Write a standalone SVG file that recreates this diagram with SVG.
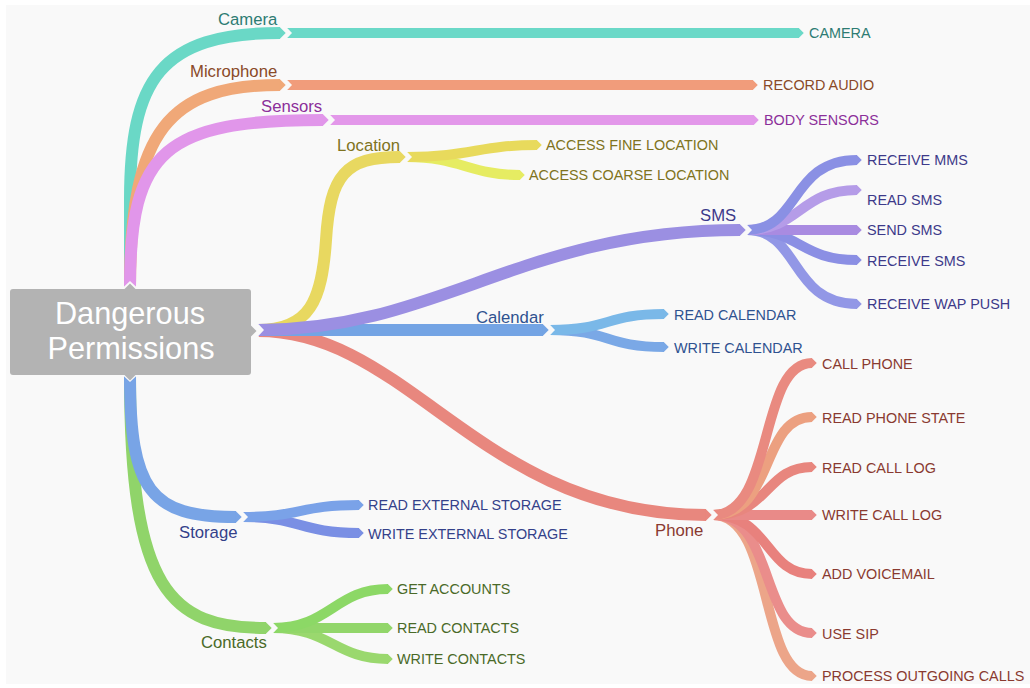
<svg xmlns="http://www.w3.org/2000/svg" width="1030" height="688" viewBox="0 0 1030 688">
<defs>
<marker id="tip" viewBox="0 0 10 20" markerWidth="0.5" markerHeight="1" refX="0.5" refY="10" orient="auto" markerUnits="strokeWidth" overflow="visible"><path d="M0,0 L10,10 L0,20 Z" fill="context-stroke"/></marker>
<marker id="notch" viewBox="0 0 10 20" markerWidth="0.5" markerHeight="1" refX="0" refY="10" orient="auto" markerUnits="strokeWidth" overflow="visible"><path d="M-1,-1.5 L10,10 L-1,21.5 Z" fill="#f9f9f9"/></marker>
<style>
.e{fill:none;stroke-linecap:butt;marker-end:url(#tip);marker-start:url(#notch)}
.l1{stroke-width:12}
.l2{stroke-width:10}
text{font-family:"Liberation Sans",Arial,sans-serif}
.cat{font-size:16.7px}
.leaf{font-size:14.4px}
</style>
</defs>
<rect width="1030" height="688" fill="#ffffff"/>
<rect x="6" y="5" width="1024" height="679" fill="#f9f9f9"/>

<g id="connectors">
<path class="e l2" stroke="#6bd9c8" d="M287,33 L799,33"/>
<path class="e l2" stroke="#f19c7b" d="M287,85 L753,85"/>
<path class="e l2" stroke="#e398ea" d="M330,120 L754,120"/>
<path class="e l2" stroke="#e6ec62" d="M407,157 C460,157 470,175 520,175"/>
<path class="e l2" stroke="#e8da5c" d="M407,157 C470,157 480,145 537,145"/>
<path class="e l2" stroke="#9297e6" d="M747,230 C800,230 790,304 857,304"/>
<path class="e l2" stroke="#8b8fe4" d="M747,230 C800,230 800,260 857,260"/>
<path class="e l2" stroke="#a98be1" d="M747,230 L857,230"/>
<path class="e l2" stroke="#b59ce8" d="M747,230 C800,230 800,190 857,190"/>
<path class="e l2" stroke="#8a90e4" d="M747,230 C800,230 790,160 857,160"/>
<path class="e l2" stroke="#7aa8e6" d="M550,330 C610,330 605,347 664,347"/>
<path class="e l2" stroke="#7ab8e8" d="M550,330 C610,330 605,314 664,314"/>
<path class="e l2" stroke="#eca589" d="M713,515 C775,515 758,676 812,676"/>
<path class="e l2" stroke="#ea8d8b" d="M713,515 C775,515 760,633 812,633"/>
<path class="e l2" stroke="#e8817d" d="M713,515 C770,515 765,574 812,574"/>
<path class="e l2" stroke="#e98a88" d="M713,515 L812,515"/>
<path class="e l2" stroke="#e8867e" d="M713,515 C770,515 765,467 812,467"/>
<path class="e l2" stroke="#eca080" d="M713,515 C775,515 760,417 812,417"/>
<path class="e l2" stroke="#e98a80" d="M713,515 C775,515 758,363 812,363"/>
<path class="e l2" stroke="#7a8fe4" d="M243,517 C300,517 300,533 359,533"/>
<path class="e l2" stroke="#7aa2e8" d="M243,517 C300,517 300,505 359,505"/>
<path class="e l2" stroke="#9ad86e" d="M273,628 C330,628 335,659 388,659"/>
<path class="e l2" stroke="#92d66a" d="M273,628 L388,628"/>
<path class="e l2" stroke="#8cd866" d="M273,628 C330,628 335,589 388,589"/>
<path class="e l1" stroke="#e8d860" d="M258,330 C310,330 322,300 326,240 C330,175 345,157 400,157"/>
<path class="e l1" stroke="#e8877e" d="M258,331 C410,331 480,515 706,515"/>
<path class="e l1" stroke="#74a4e4" d="M258,330 L543,330"/>
<path class="e l1" stroke="#9b8fe2" d="M258,330 C440,330 520,230 740,230"/>
<path class="e l1" stroke="#6ad8c6" d="M130,287 L130,200 C130,80 160,33 280,33"/>
<path class="e l1" stroke="#f0a878" d="M130,287 C130,130 170,85 280,85"/>
<path class="e l1" stroke="#e196ea" d="M130,287 C130,150 165,120 323,120"/>
<path class="e l1" stroke="#90d46a" d="M130,376 C130,590 170,628 266,628"/>
<path class="e l1" stroke="#78a4e6" d="M130,376 C130,490 150,517 236,517"/>
</g>

<g id="root">
<rect x="10" y="289" width="241" height="86" rx="3" fill="#b3b3b3"/>
<path d="M124,289.5 L130,283.5 L136,289.5 Z M124,374.5 L130,380.5 L136,374.5 Z M250.5,325 L256.5,331 L250.5,337 Z" fill="#b3b3b3"/>
<text x="130" y="324" font-size="30.7" fill="#ffffff" text-anchor="middle">Dangerous</text>
<text x="131" y="359" font-size="30.7" fill="#ffffff" text-anchor="middle">Permissions</text>
</g>

<g id="camera"><text class="cat" x="218" y="25" fill="#2d7c73">Camera</text></g>
<g id="microphone"><text class="cat" x="190" y="77" fill="#8a4a28">Microphone</text></g>
<g id="sensors"><text class="cat" x="261" y="112" fill="#8c2f9a">Sensors</text></g>
<g id="location"><text class="cat" x="337" y="151" fill="#7f7320">Location</text></g>
<g id="sms"><text class="cat" x="700" y="221" fill="#3d3a8a">SMS</text></g>
<g id="calendar"><text class="cat" x="476" y="323" fill="#2f5290">Calendar</text></g>
<g id="phone"><text class="cat" x="655" y="536" fill="#8a3a30">Phone</text></g>
<g id="storage"><text class="cat" x="179" y="538" fill="#34418a">Storage</text></g>
<g id="contacts"><text class="cat" x="201" y="648" fill="#4a6a28">Contacts</text></g>

<g id="leaf-camera"><text class="leaf" x="809" y="38" fill="#2d7c73">CAMERA</text></g>
<g id="leaf-record-audio"><text class="leaf" x="763" y="90" fill="#8a4a28">RECORD AUDIO</text></g>
<g id="leaf-body-sensors"><text class="leaf" x="764" y="125" fill="#8c2f9a">BODY SENSORS</text></g>
<g id="leaf-fine-location"><text class="leaf" x="546" y="150" fill="#7f7320">ACCESS FINE LOCATION</text></g>
<g id="leaf-coarse-location"><text class="leaf" x="529" y="180" fill="#7f7320">ACCESS COARSE LOCATION</text></g>
<g id="leaf-receive-mms"><text class="leaf" x="867" y="165" fill="#3d3a8a">RECEIVE MMS</text></g>
<g id="leaf-read-sms"><text class="leaf" x="867" y="205" fill="#3d3a8a">READ SMS</text></g>
<g id="leaf-send-sms"><text class="leaf" x="867" y="235" fill="#3d3a8a">SEND SMS</text></g>
<g id="leaf-receive-sms"><text class="leaf" x="867" y="266" fill="#3d3a8a">RECEIVE SMS</text></g>
<g id="leaf-wap-push"><text class="leaf" x="867" y="309" fill="#3d3a8a">RECEIVE WAP PUSH</text></g>
<g id="leaf-read-calendar"><text class="leaf" x="674" y="320" fill="#2f5290">READ CALENDAR</text></g>
<g id="leaf-write-calendar"><text class="leaf" x="674" y="353" fill="#2f5290">WRITE CALENDAR</text></g>
<g id="leaf-call-phone"><text class="leaf" x="822" y="369" fill="#8a3a30">CALL PHONE</text></g>
<g id="leaf-read-phone-state"><text class="leaf" x="822" y="423" fill="#8a3a30">READ PHONE STATE</text></g>
<g id="leaf-read-call-log"><text class="leaf" x="822" y="473" fill="#8a3a30">READ CALL LOG</text></g>
<g id="leaf-write-call-log"><text class="leaf" x="822" y="520" fill="#8a3a30">WRITE CALL LOG</text></g>
<g id="leaf-add-voicemail"><text class="leaf" x="822" y="579" fill="#8a3a30">ADD VOICEMAIL</text></g>
<g id="leaf-use-sip"><text class="leaf" x="822" y="639" fill="#8a3a30">USE SIP</text></g>
<g id="leaf-process-outgoing"><text class="leaf" x="822" y="681" fill="#8a3a30">PROCESS OUTGOING CALLS</text></g>
<g id="leaf-read-ext-storage"><text class="leaf" x="368" y="510" fill="#34418a">READ EXTERNAL STORAGE</text></g>
<g id="leaf-write-ext-storage"><text class="leaf" x="368" y="539" fill="#34418a">WRITE EXTERNAL STORAGE</text></g>
<g id="leaf-get-accounts"><text class="leaf" x="397" y="594" fill="#4a6a28">GET ACCOUNTS</text></g>
<g id="leaf-read-contacts"><text class="leaf" x="397" y="633" fill="#4a6a28">READ CONTACTS</text></g>
<g id="leaf-write-contacts"><text class="leaf" x="397" y="664" fill="#4a6a28">WRITE CONTACTS</text></g>
</svg>
